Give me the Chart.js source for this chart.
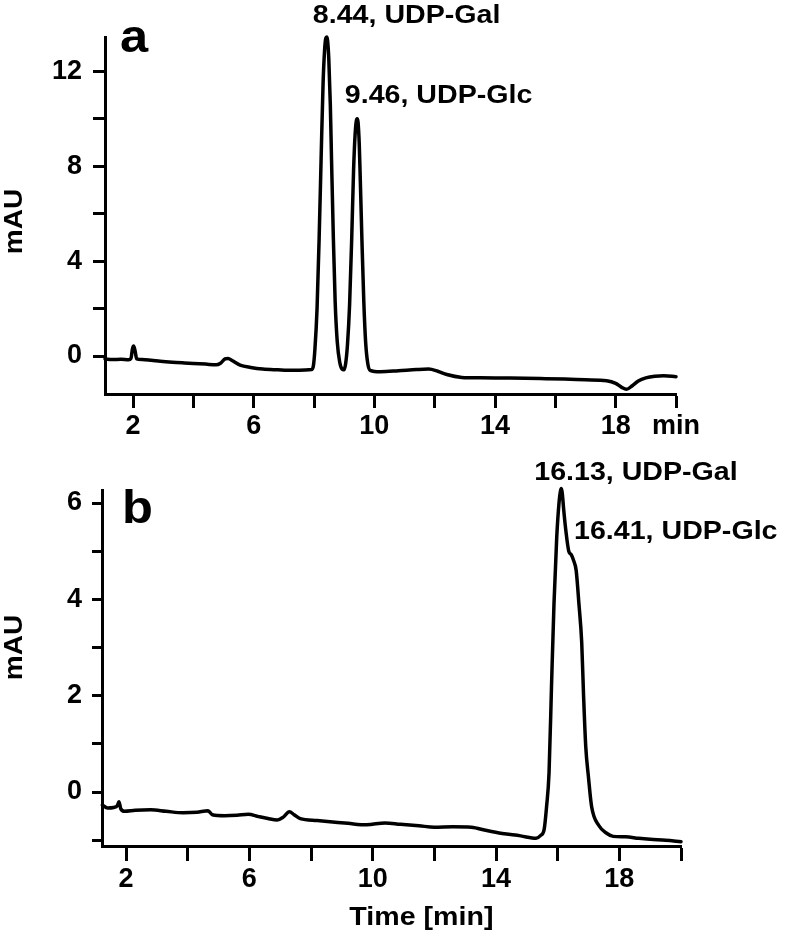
<!DOCTYPE html>
<html>
<head>
<meta charset="utf-8">
<script src="https://cdn.jsdelivr.net/npm/chart.js@4"></script>
<style>
  html, body { margin: 0; padding: 0; background: #fff; }
  #wrap { position: relative; width: 786px; height: 930px; overflow: hidden; }
  canvas { position: absolute; left: 0; }
  #c1 { top: 0; }
  #c2 { top: 440px; }
</style>
</head>
<body>
<div id="wrap">
  <canvas id="c1" width="786" height="440"></canvas>
  <canvas id="c2" width="786" height="490"></canvas>
</div>
<script>
// ---------- Panel a data (time in min, absorbance in mAU) ----------
const topTime = [1.07,1.3,1.6,1.85,1.93,1.98,2.02,2.07,2.12,2.3,2.6,2.9,3.3,3.7,4.0,4.4,4.75,4.9,5.05,5.15,5.3,5.55,5.9,6.3,6.8,7.3,7.7,7.92,7.98,8.03,8.1,8.17,8.24,8.3,8.35,8.39,8.42,8.45,8.49,8.54,8.58,8.64,8.7,8.77,8.85,8.93,8.99,9.05,9.11,9.18,9.25,9.31,9.36,9.4,9.43,9.46,9.5,9.53,9.59,9.65,9.71,9.78,9.86,10.2,10.8,11.4,11.8,12.1,12.4,12.9,13.5,14.5,15.5,16.3,17.0,17.7,18.0,18.2,18.36,18.55,18.75,19.0,19.3,19.6,20.0];
const topMau  = [-0.12,-0.15,-0.14,-0.16,-0.1,0.3,0.42,0.2,-0.12,-0.15,-0.18,-0.22,-0.26,-0.29,-0.31,-0.34,-0.37,-0.3,-0.12,-0.1,-0.2,-0.38,-0.48,-0.55,-0.58,-0.6,-0.59,-0.57,-0.4,0.3,2.0,5.0,8.6,11.5,12.9,13.4,13.45,13.3,12.5,10.6,8.3,5.0,2.3,0.6,-0.25,-0.55,-0.58,-0.3,0.5,2.2,5.0,7.8,9.3,9.9,10.0,9.85,8.9,7.6,4.8,2.3,0.6,-0.3,-0.6,-0.66,-0.62,-0.57,-0.55,-0.64,-0.78,-0.9,-0.92,-0.93,-0.95,-0.97,-1.0,-1.04,-1.15,-1.32,-1.4,-1.25,-1.05,-0.92,-0.85,-0.83,-0.87];

// ---------- Panel b data ----------
const botTime = [1.23,1.4,1.6,1.72,1.77,1.83,1.95,2.3,2.8,3.3,3.85,4.3,4.66,4.8,5.2,5.6,5.96,6.3,6.6,6.9,7.1,7.3,7.45,7.65,8.2,8.7,9.2,9.8,10.4,10.9,11.5,12.0,12.6,13.2,13.7,14.2,14.8,15.3,15.45,15.56,15.64,15.72,15.8,15.88,15.97,16.05,16.09,16.12,16.15,16.19,16.27,16.36,16.44,16.52,16.6,16.69,16.78,16.84,16.91,17.0,17.1,17.34,17.6,17.8,18.2,18.63,19.0,19.5,20.0];
const botMau  = [-0.27,-0.33,-0.32,-0.28,-0.2,-0.35,-0.4,-0.38,-0.37,-0.4,-0.43,-0.42,-0.39,-0.47,-0.49,-0.48,-0.46,-0.51,-0.55,-0.58,-0.52,-0.41,-0.47,-0.55,-0.59,-0.62,-0.65,-0.68,-0.64,-0.67,-0.7,-0.73,-0.72,-0.73,-0.8,-0.86,-0.91,-0.96,-0.9,-0.78,-0.3,0.4,2.2,3.9,5.3,6.05,6.25,6.3,6.2,5.9,5.4,5.0,4.93,4.8,4.6,3.9,3.1,2.0,0.95,0.3,-0.3,-0.7,-0.86,-0.92,-0.93,-0.96,-0.98,-1.0,-1.03];

// ---------- Tick values and labels ----------
const topXTicks  = [2,4,6,8,10,12,14,16,18,20];
const topXLabels = ['2','','6','','10','','14','','18','min'];
const topYTicks  = [0,2,4,6,8,10,12];
const topYLabels = ['0','','4','','8','','12'];
const botXTicks  = [2,4,6,8,10,12,14,16,18,20];
const botXLabels = ['2','','6','','10','','14','','18',''];
const botYTicks  = [-1,0,1,2,3,4,5,6];
const botYLabels = ['','0','','2','','4','','6'];

// ---------- Annotation texts ----------
const topTexts = ['8.44, UDP-Gal', '9.46, UDP-Glc'];
const botTexts = ['16.13, UDP-Gal', '16.41, UDP-Glc'];

const FONT = '"Liberation Sans", Arial, Helvetica, sans-serif';

const textPlugin = {
  id: 'panelText',
  afterDraw(chart, args, opts) {
    const ctx = chart.ctx;
    const xs = chart.scales.x, ys = chart.scales.y;
    ctx.save();
    ctx.fillStyle = '#000';
    (opts.items || []).forEach(it => {
      const px = it.px !== undefined ? it.px : xs.getPixelForValue(it.x);
      const py = ys.getPixelForValue(it.y);
      ctx.save();
      ctx.font = 'bold ' + it.size + 'px ' + FONT;
      ctx.textAlign = it.align || 'left';
      ctx.textBaseline = it.baseline || 'alphabetic';
      ctx.translate(px, py);
      if (it.rotate) ctx.rotate(it.rotate);
      ctx.scale(it.sx || 1, 1);
      ctx.fillText(it.text, 0, 0);
      ctx.restore();
    });
    ctx.restore();
  }
};

function makeChart(id, time, mau, cfg) {
  const pts = time.map((t, i) => ({x: t, y: mau[i]}));
  return new Chart(document.getElementById(id), {
    type: 'line',
    data: { datasets: [{
      data: pts,
      borderColor: '#000',
      borderWidth: 3.5,
      pointRadius: 0,
      cubicInterpolationMode: 'monotone',
      fill: false,
      clip: false,
      borderJoinStyle: 'round',
      borderCapStyle: 'round'
    }]},
    options: {
      responsive: false,
      animation: false,
      devicePixelRatio: 1,
      layout: { padding: cfg.padding },
      plugins: {
        legend: { display: false },
        tooltip: { enabled: false },
        panelText: { items: cfg.items }
      },
      scales: {
        x: {
          type: 'linear',
          min: cfg.xMin, max: 20,
          afterBuildTicks: s => { s.ticks = cfg.xTicks.map(v => ({value: v})); },
          afterFit: s => { s.height = cfg.xHeight; },
          ticks: {
            autoSkip: false, maxRotation: 0, padding: 2,
            color: '#000',
            font: { family: FONT, weight: 'bold', size: 27 },
            callback: (v, i) => cfg.xLabels[i]
          },
          grid: { display: true, drawOnChartArea: false, drawTicks: true,
                  tickLength: cfg.xTickLen, tickWidth: 3, tickColor: '#000', color: '#000' },
          border: { display: true, color: '#000', width: 3 }
        },
        y: {
          min: cfg.yMin, max: cfg.yMax,
          afterBuildTicks: s => { s.ticks = cfg.yTicks.map(v => ({value: v})); },
          afterFit: s => { s.width = cfg.yWidth; },
          ticks: {
            padding: cfg.yPad,
            color: '#000',
            font: { family: FONT, weight: 'bold', size: 27 },
            callback: (v, i) => cfg.yLabels[i]
          },
          grid: { display: true, drawOnChartArea: false, drawTicks: true,
                  tickLength: cfg.yTickLen, tickWidth: 3, tickColor: '#000', color: '#000' },
          border: { display: true, color: '#000', width: 3 }
        }
      }
    },
    plugins: [textPlugin]
  });
}

makeChart('c1', topTime, topMau, {
  padding: { top: 37, right: 110, left: 0, bottom: 0 },
  xMin: 1.07, yMin: -1.6, yMax: 13.45,
  xTicks: topXTicks, xLabels: topXLabels, yTicks: topYTicks, yLabels: topYLabels,
  xHeight: 46, yWidth: 105, xTickLen: 14, yTickLen: 12, yPad: 11,
  items: [
    { text: topTexts[0], x: 7.96, y: 14.03, size: 26, sx: 1.1 },
    { text: topTexts[1], x: 9.02, y: 10.67, size: 26, sx: 1.1 },
    { text: 'a', x: 1.57, y: 12.83, size: 46, sx: 1.1 },
    { text: 'mAU', px: 15, y: 5.67, size: 25, align: 'center', baseline: 'middle', rotate: -Math.PI / 2, sx: 1.12 }
  ]
});

makeChart('c2', botTime, botMau, {
  padding: { top: 50, right: 105, left: 0, bottom: 0 },
  xMin: 1.22, yMin: -1.12, yMax: 6.27,
  xTicks: botXTicks, xLabels: botXLabels, yTicks: botYTicks, yLabels: botYLabels,
  xHeight: 84, yWidth: 102, xTickLen: 15, yTickLen: 10, yPad: 10,
  items: [
    { text: botTexts[0], x: 15.24, y: 6.47, size: 26, sx: 1.1 },
    { text: botTexts[1], x: 16.53, y: 5.25, size: 26, sx: 1.1 },
    { text: 'b', x: 1.87, y: 5.58, size: 46, sx: 1.1 },
    { text: 'mAU', px: 15, y: 3.0, size: 25, align: 'center', baseline: 'middle', rotate: -Math.PI / 2, sx: 1.12 },
    { text: 'Time [min]', x: 11.58, y: -2.76, size: 26, align: 'center', sx: 1.1 }
  ]
});
</script>
</body>
</html>
